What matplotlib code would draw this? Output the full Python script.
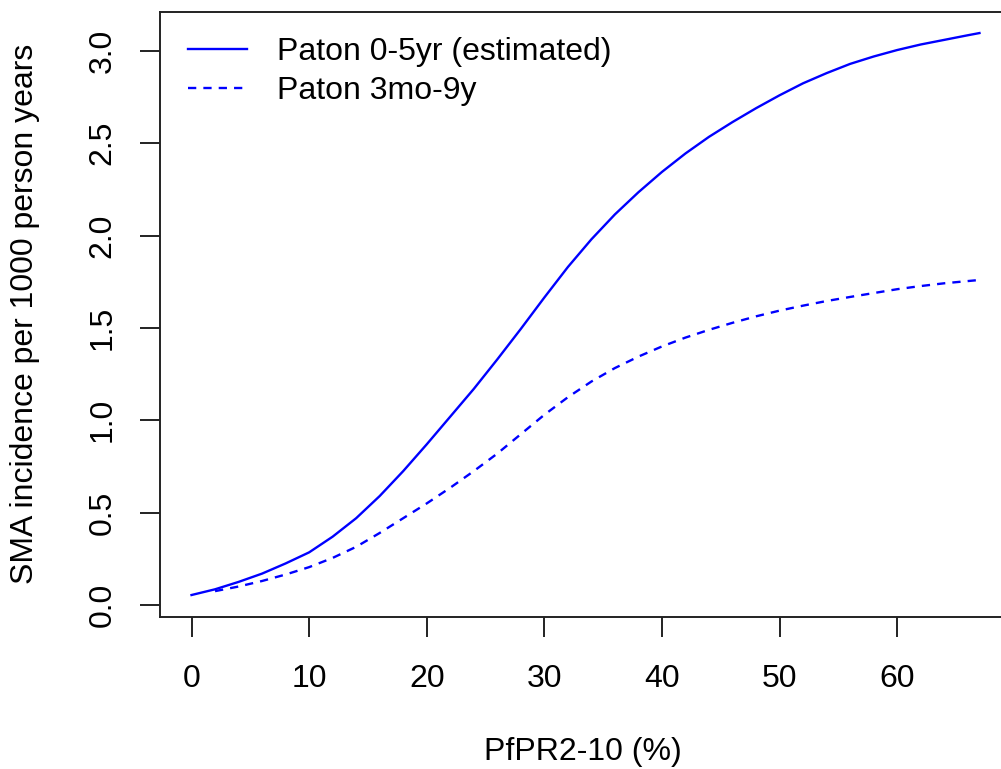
import matplotlib
matplotlib.use('Agg')
import matplotlib.pyplot as plt

# PfPR2-10 (%) grid and values
pfpr_solid = [0, 2, 4, 6, 8, 10, 12, 14, 16, 18, 20, 22, 24, 26, 28, 30, 32, 34,
              36, 38, 40, 42, 44, 46, 48, 50, 52, 54, 56, 58, 60, 62, 64, 66, 67]
sma_0_5yr = [0.054, 0.085, 0.125, 0.170, 0.225, 0.285, 0.37, 0.47, 0.59, 0.725,
             0.87, 1.02, 1.17, 1.33, 1.495, 1.665, 1.83, 1.98, 2.115, 2.235,
             2.345, 2.445, 2.535, 2.615, 2.69, 2.76, 2.825, 2.88, 2.93, 2.97,
             3.005, 3.035, 3.06, 3.085, 3.097]

pfpr_dash = [2, 4, 6, 8, 10, 12, 14, 16, 18, 20, 22, 24, 26, 28, 30, 32, 34,
             36, 38, 40, 42, 44, 46, 48, 50, 52, 54, 56, 58, 60, 62, 64, 66, 67]
sma_3mo_9y = [0.075, 0.10, 0.13, 0.165, 0.205, 0.255, 0.315, 0.39, 0.47, 0.55,
              0.635, 0.725, 0.82, 0.925, 1.03, 1.125, 1.21, 1.283, 1.345, 1.40,
              1.448, 1.49, 1.528, 1.563, 1.594, 1.621, 1.646, 1.668, 1.689, 1.71,
              1.727, 1.742, 1.754, 1.76]

xticks = [0, 10, 20, 30, 40, 50, 60]
yticks = [0.0, 0.5, 1.0, 1.5, 2.0, 2.5, 3.0]
ytick_labels = ['0.0', '0.5', '1.0', '1.5', '2.0', '2.5', '3.0']

plt.rcParams['font.family'] = ['Liberation Sans', 'DejaVu Sans']
fs = 23

W, H = 1001, 769
fig = plt.figure(figsize=(W / 100, H / 100), dpi=100)
# plot box in pixels: left 160, right 1011 (off image), top 12, bottom 617
ax = fig.add_axes([160 / W, 1 - 617 / H, (1011 - 160) / W, (617 - 12) / H])

ax.plot(pfpr_solid, sma_0_5yr, color='#0000ff', lw=1.7, label='Paton 0-5yr (estimated)')
ax.plot(pfpr_dash, sma_3mo_9y, color='#0000ff', lw=1.7, dashes=(3.5, 3),
        label='Paton 3mo-9y')

ax.set_xlim(-2.68, 69.68)
ax.set_ylim(-0.065, 3.211)
ax.set_xticks(xticks)
ax.set_yticks(yticks)
ax.set_yticklabels(ytick_labels, rotation=90, va='center')
ax.tick_params(axis='both', direction='out', length=14.5, width=1.4,
               color='#222222', labelsize=fs)
ax.tick_params(axis='x', pad=19)
ax.tick_params(axis='y', pad=16)
for s in ax.spines.values():
    s.set_linewidth(1.4)
    s.set_color('#222222')

fig.text(583 / W, 1 - 752 / H, 'PfPR2-10 (%)', fontsize=fs, ha='center', va='center')
fig.text(25 / W, 1 - 314 / H, 'SMA incidence per 1000 person years', fontsize=fs,
         rotation=90, ha='center', va='center')

ax.legend(loc='upper left', bbox_to_anchor=(0.033, 0.959), frameon=False, fontsize=fs,
          handlelength=1.85, handletextpad=0.94, labelspacing=0.29,
          borderaxespad=0.0, borderpad=0.0)

fig.savefig('out.png', dpi=100)
